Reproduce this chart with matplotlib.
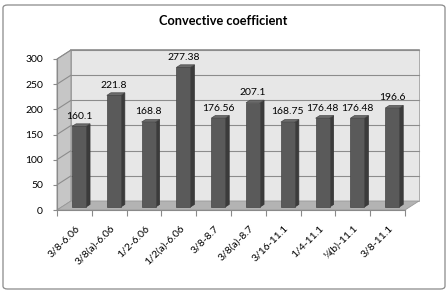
import matplotlib
matplotlib.use("Agg")
import matplotlib.pyplot as plt
import matplotlib.transforms as mtransforms
from matplotlib.patches import Polygon, FancyBboxPatch

categories = ["3/8-6.06", "3/8(a)-6.06", "1/2-6.06", "1/2(a)-6.06", "3/8-8.7",
              "3/8(a)-8.7", "3/16-11.1", "1/4-11.1", "¼(b)-11.1", "3/8-11.1"]
values = [160.1, 221.8, 168.8, 277.38, 176.56, 207.1, 168.75, 176.48, 176.48, 196.6]
labels = ["160.1", "221.8", "168.8", "277.38", "176.56", "207.1", "168.75", "176.48", "176.48", "196.6"]
yticks = [0, 50, 100, 150, 200, 250, 300]
title = "Convective coefficient"

W, H, DPI = 448, 292, 100
plt.rcParams['font.family'] = ['Lato', 'DejaVu Sans']
fig = plt.figure(figsize=(W / DPI, H / DPI), dpi=DPI)

# chart border
fig.patches.append(FancyBboxPatch((3 / W, 3 / H), 442 / W, 284 / H,
                                  boxstyle="round,pad=0,rounding_size=0.01",
                                  transform=fig.transFigure, fill=False,
                                  edgecolor="#8a8a8a", linewidth=0.9))

ax = fig.add_axes([57 / W, (H - 210) / H, 348 / W, 151 / H])
n = len(values)
ax.set_xlim(0, n)
ax.set_ylim(0, 300)
ax.patch.set_visible(False)
for s in ax.spines.values():
    s.set_visible(False)

DX, DY = 14, 9  # depth offset in px
IDT = mtransforms.IdentityTransform()


def off(frac, ex=0, ey=0):
    return ax.transData + mtransforms.ScaledTranslation((DX * frac + ex) / DPI,
                                                        (DY * frac + ey) / DPI,
                                                        fig.dpi_scale_trans)


def poly(pts, frac_list, **kw):
    disp = []
    for (x, y), f in zip(pts, frac_list):
        px, py = ax.transData.transform((x, y))
        disp.append((px + DX * f, py + DY * f))
    p = Polygon(disp, closed=True, transform=IDT, clip_on=False, **kw)
    ax.add_patch(p)
    return p


# back wall
poly([(0, 0), (n, 0), (n, 300), (0, 300)], [1, 1, 1, 1], facecolor="#e7e7e7",
     edgecolor="#a0a0a0", linewidth=0.6, zorder=1)
# side wall
poly([(0, 0), (0, 0), (0, 300), (0, 300)], [0, 1, 1, 0], facecolor="#c6c6c6",
     edgecolor="#8a8a8a", linewidth=0.6, zorder=1)

# gridlines
for t in yticks[1:]:
    ax.plot([0, n], [t, t], color="#8c8c8c", linewidth=0.8, transform=off(1),
            clip_on=False, zorder=1.5)
    poly([(0, t), (0, t)], [0, 1], fill=False, edgecolor="#8c8c8c", linewidth=0.8,
         zorder=1.5)
# top wall edge
ax.plot([0, n], [300, 300], color="#8c8c8c", linewidth=1.2, transform=off(1),
        clip_on=False, zorder=1.6)

# floor
poly([(0, 0), (n, 0), (n, 0), (0, 0)], [0, 0, 1, 1], facecolor="#b3b3b3",
     edgecolor="#999999", linewidth=0.6, zorder=2)

# bars
hw = 0.2
f1, f2 = 0.33, 0.62
for i, v in enumerate(values):
    c = i + 0.5
    poly([(c + hw, 0), (c + hw, v), (c + hw, v), (c + hw, 0)], [f1, f1, f2, f2],
         facecolor="#3b3b3b", edgecolor="#353535", linewidth=0.5, zorder=3)
    poly([(c - hw, v), (c + hw, v), (c + hw, v), (c - hw, v)], [f1, f1, f2, f2],
         facecolor="#6b6b6b", edgecolor="#4a4a4a", linewidth=0.5, zorder=3)
    poly([(c - hw, 0), (c + hw, 0), (c + hw, v), (c - hw, v)], [f1, f1, f1, f1],
         facecolor="#5a5a5a", edgecolor="#454545", linewidth=0.5, zorder=3)
    ax.text(c, v, labels[i], transform=off(0, DX * f1, DY * f2 + 5), ha="center",
            va="baseline", fontsize=7.5, color="black", zorder=5, clip_on=False)

# axes ticks
ax.set_yticks(yticks)
ax.set_yticklabels([str(t) for t in yticks], fontsize=7.5)
ax.tick_params(axis="y", length=3, width=0.8, color="#8a8a8a", pad=7)
ax.set_xticks(range(n + 1))
ax.set_xticklabels([])
ax.tick_params(axis="x", length=4, width=0.8, color="#8a8a8a")
ax.plot([0, 0], [0, 300], color="#8a8a8a", linewidth=0.8, clip_on=False, zorder=2.5)
ax.plot([0, n], [0, 0], color="#8a8a8a", linewidth=0.8, clip_on=False, zorder=2.5)

for i, cat in enumerate(categories):
    ax.text(i + 0.5, 0, cat, transform=off(0, 4, -17), rotation=45, rotation_mode="anchor",
            ha="right", va="center", fontsize=7.5, color="black", clip_on=False)

fig.text(223 / W, 1 - 21 / H, title, ha="center", va="center", fontsize=9.2,
         fontweight="bold")

fig.savefig("out.png", dpi=DPI)
